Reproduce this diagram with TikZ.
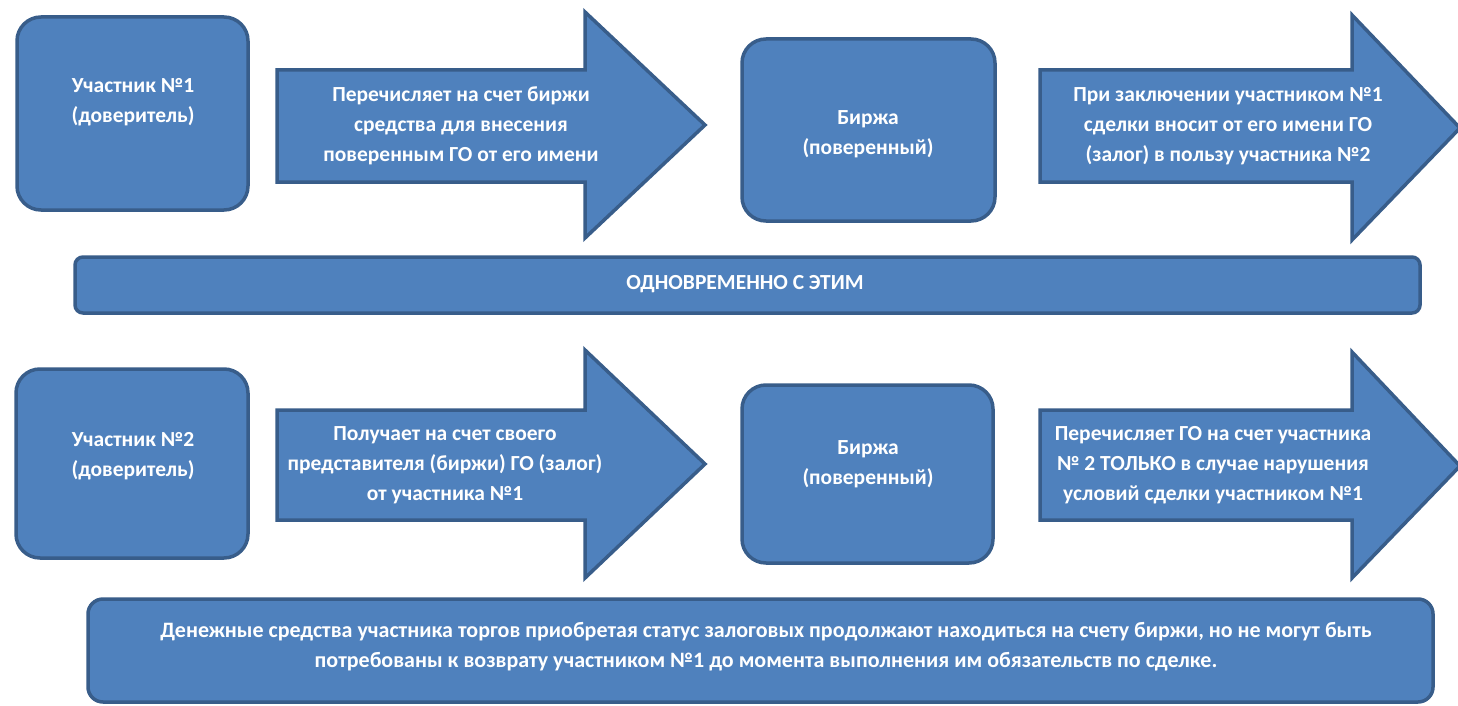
\documentclass[tikz,border=0pt]{standalone}
\usepackage{fontspec}
\setmainfont{Carlito}
\definecolor{fillblue}{HTML}{4F81BD}
\definecolor{edgeblue}{HTML}{385D8A}
\tikzset{
  box/.style={draw=edgeblue, line width=3.5pt, fill=fillblue, rounded corners=24pt, inner sep=0pt},
  banner/.style={draw=edgeblue, line width=3.5pt, fill=fillblue, rounded corners=8pt, inner sep=0pt},
  bigarrow/.style={draw=edgeblue, line width=3.5pt, fill=fillblue, line join=miter},
  lbl/.style={text=white, font=\fontsize{21.5}{30}\selectfont\bfseries, align=center, inner sep=0pt},
}
\begin{document}
\begin{tikzpicture}[x=1pt, y=-1pt]
\useasboundingbox[fill=white] (0,0) rectangle (1458,706);

% top row
\node[box, minimum width=231pt, minimum height=193pt] (p1) at (132.5,113.5) {};
\node[lbl] (p1t) at (133,102) {Участник №1\\(доверитель)};

\draw[bigarrow] (277,70) -- (585,70) -- (585,12) -- (705,125) -- (585,238) -- (585,182) -- (277,182) -- cycle;
\node[lbl] (a1t) at (461,126) {Перечисляет на счет биржи\\средства для внесения\\поверенным ГО от его имени};

\node[box, minimum width=253pt, minimum height=182pt] (b1) at (868.5,130) {};
\node[lbl] (b1t) at (868,134) {Биржа\\(поверенный)};

\draw[bigarrow] (1040,70) -- (1352,70) -- (1352,15) -- (1460,128) -- (1352,240) -- (1352,182) -- (1040,182) -- cycle;
\node[lbl] (a2t) at (1228,126) {При заключении участником №1\\сделки вносит от его имени ГО\\(залог) в пользу участника №2};

% banner
\node[banner, minimum width=1345pt, minimum height=56pt] (mid) at (747.5,285) {};
\node[lbl] (midt) at (745,284) {ОДНОВРЕМЕННО С ЭТИМ};

% bottom row
\node[box, minimum width=232pt, minimum height=189pt] (p2) at (132,463.5) {};
\node[lbl] (p2t) at (133,456) {Участник №2\\(доверитель)};

\draw[bigarrow] (277,410) -- (585,410) -- (585,350) -- (705,464) -- (585,578) -- (585,520) -- (277,520) -- cycle;
\node[lbl] (a3t) at (445,465) {Получает на счет своего\\представителя (биржи) ГО (залог)\\от участника №1};

\node[box, minimum width=251pt, minimum height=178pt] (b2) at (867.5,474) {};
\node[lbl] (b2t) at (868,464) {Биржа\\(поверенный)};

\draw[bigarrow] (1040,410) -- (1352,410) -- (1352,352) -- (1460,466) -- (1352,578) -- (1352,520) -- (1040,520) -- cycle;
\node[lbl] (a4t) at (1213,465) {Перечисляет ГО на счет участника\\№ 2 ТОЛЬКО в случае нарушения\\условий сделки участником №1};

% bottom banner
\node[banner, rounded corners=15pt, minimum width=1345pt, minimum height=103pt] (note) at (760.5,650.5) {};
\node[lbl, font=\fontsize{22}{30}\selectfont\bfseries] (notet) at (766,647) {Денежные средства участника торгов приобретая статус залоговых продолжают находиться на счету биржи, но не могут быть\\потребованы к возврату участником №1 до момента выполнения им обязательств по сделке.};
\end{tikzpicture}
\end{document}
